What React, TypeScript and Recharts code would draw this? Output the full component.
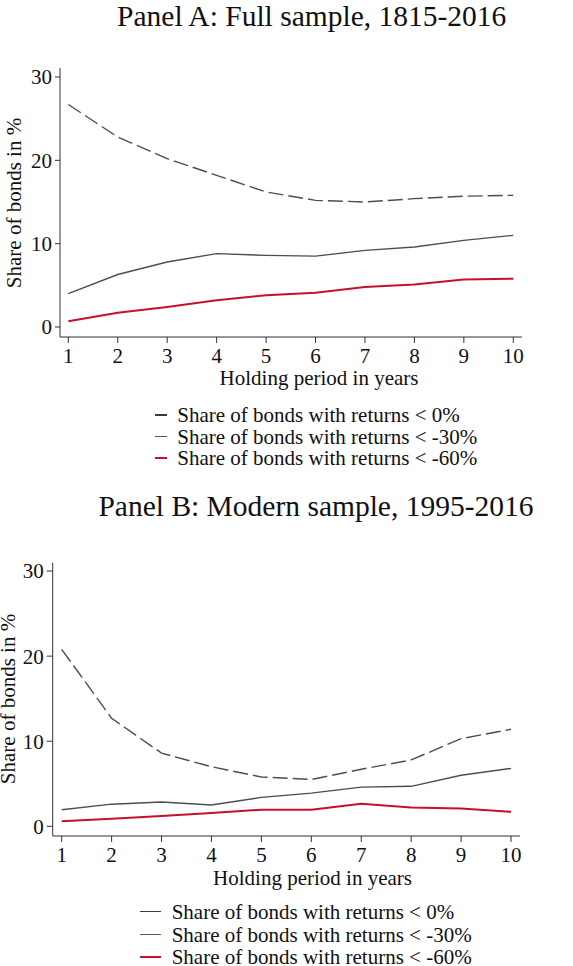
import React from "react";
import { LineChart, Line, XAxis, YAxis } from "recharts";

if (typeof document !== "undefined") {
  document.body.style.margin = "0";
}

const FONT = '"Liberation Serif", "Times New Roman", serif';

// ---- data ----
const holdingYears = [1, 2, 3, 4, 5, 6, 7, 8, 9, 10];
const yTicks = [0, 10, 20, 30];

const fullBelow0 = [26.7, 22.8, 20.2, 18.2, 16.2, 15.2, 15.0, 15.4, 15.7, 15.8];
const fullBelow30 = [4.0, 6.3, 7.8, 8.8, 8.6, 8.5, 9.2, 9.6, 10.4, 11.0];
const fullBelow60 = [0.7, 1.7, 2.4, 3.2, 3.8, 4.1, 4.8, 5.1, 5.7, 5.8];

const modernBelow0 = [20.8, 12.7, 8.6, 7.0, 5.8, 5.5, 6.7, 7.8, 10.3, 11.4];
const modernBelow30 = [1.95, 2.6, 2.85, 2.5, 3.4, 3.9, 4.6, 4.7, 6.0, 6.8];
const modernBelow60 = [0.6, 0.9, 1.2, 1.55, 1.95, 1.95, 2.65, 2.2, 2.1, 1.7];

const seriesNames = [
  "Share of bonds with returns < 0%",
  "Share of bonds with returns < -30%",
  "Share of bonds with returns < -60%",
];
const panelTitles = ["Panel A: Full sample, 1815-2016", "Panel B: Modern sample, 1995-2016"];
const xTitle = "Holding period in years";
const yTitle = "Share of bonds in %";

const COLORS = ["#4d4d4d", "#4d4d4d", "#c8102e"];
const LEGEND_COLORS = ["#3a3a3a", "#5a5a5a", "#c8102e"];

function buildRows(a: number[], b: number[], c: number[]) {
  return holdingYears.map((h, i) => ({ h, s0: a[i], s30: b[i], s60: c[i] }));
}

const fullRows = buildRows(fullBelow0, fullBelow30, fullBelow60);
const modernRows = buildRows(modernBelow0, modernBelow30, modernBelow60);

type Cfg = {
  top: number;
  height: number;
  rows: any[];
  margin: { top: number; right: number; bottom: number; left: number };
  xDomain: [number, number];
  yDomain: [number, number];
  title: string;
  titleCenter: [number, number];
  xLabelCenter: [number, number];
  yLabelCenter: [number, number];
  legendLine: [number, number];
  legendTextX: number;
  legendRowsY: number[];
  yTickSize: number;
};

const Centered = ({ x, y, size, children, rotate }: any) => (
  <div
    style={{
      position: "absolute",
      left: x,
      top: y,
      transform: `translate(-50%, -50%)${rotate ? ` rotate(${rotate}deg)` : ""}`,
      fontFamily: FONT,
      fontSize: size,
      lineHeight: 1,
      whiteSpace: "nowrap",
      color: "#111",
    }}
  >
    {children}
  </div>
);

function Panel({ cfg }: { cfg: Cfg }) {
  return (
    <div style={{ position: "absolute", left: 0, top: cfg.top, width: 573, height: cfg.height }}>
      <div style={{ position: "absolute", left: 0, top: 0 }}>
        <LineChart width={573} height={cfg.height} data={cfg.rows} margin={cfg.margin}>
          <XAxis
            dataKey="h"
            type="number"
            domain={cfg.xDomain}
            ticks={holdingYears}
            allowDataOverflow
            height={30}
            tickSize={6}
            tickMargin={5}
            stroke="#333"
            tick={{ fill: "#111", fontSize: 21, fontFamily: FONT }}
            interval={0}
          />
          <YAxis
            type="number"
            domain={cfg.yDomain}
            ticks={yTicks}
            allowDataOverflow
            width={1}
            tickSize={cfg.yTickSize}
            tickMargin={3}
            stroke="#333"
            tick={{ fill: "#111", fontSize: 21, fontFamily: FONT }}
            interval={0}
          />
          <Line
            dataKey="s0"
            stroke={COLORS[0]}
            strokeWidth={1.4}
            strokeDasharray="15 5"
            dot={false}
            isAnimationActive={false}
            type="linear"
          />
          <Line
            dataKey="s30"
            stroke={COLORS[1]}
            strokeWidth={1.4}
            dot={false}
            isAnimationActive={false}
            type="linear"
          />
          <Line
            dataKey="s60"
            stroke={COLORS[2]}
            strokeWidth={2}
            dot={false}
            isAnimationActive={false}
            type="linear"
          />
        </LineChart>
      </div>
      <Centered x={cfg.titleCenter[0]} y={cfg.titleCenter[1]} size={29.5}>
        {cfg.title}
      </Centered>
      <Centered x={cfg.xLabelCenter[0]} y={cfg.xLabelCenter[1]} size={21}>
        {xTitle}
      </Centered>
      <Centered x={cfg.yLabelCenter[0]} y={cfg.yLabelCenter[1]} size={21} rotate={-90}>
        {yTitle}
      </Centered>
      {seriesNames.map((name, i) => (
        <React.Fragment key={name}>
          <div
            style={{
              position: "absolute",
              left: cfg.legendLine[0],
              top: cfg.legendRowsY[i] - 1,
              width: cfg.legendLine[1] - cfg.legendLine[0],
              height: i === 2 ? 2 : 1.4,
              background: LEGEND_COLORS[i],
            }}
          />
          <div
            style={{
              position: "absolute",
              left: cfg.legendTextX,
              top: cfg.legendRowsY[i],
              transform: "translateY(-50%)",
              fontFamily: FONT,
              fontSize: 21,
              lineHeight: 1,
              whiteSpace: "nowrap",
              color: "#111",
            }}
          >
            {name}
          </div>
        </React.Fragment>
      ))}
    </div>
  );
}

const panelA: Cfg = {
  top: 0,
  height: 480,
  rows: fullRows,
  margin: { top: 68, right: 51, bottom: 113, left: 59 },
  xDomain: [0.832, 10.176],
  yDomain: [-1.2, 31.08],
  title: panelTitles[0],
  titleCenter: [311.7, 16.5],
  xLabelCenter: [319, 378],
  yLabelCenter: [14, 202.5],
  legendLine: [155, 167],
  legendTextX: 177.3,
  legendRowsY: [415.3, 437, 458.3],
  yTickSize: 5,
};

const panelB: Cfg = {
  top: 480,
  height: 486,
  rows: modernRows,
  margin: { top: 82.7, right: 53, bottom: 100, left: 51.7 },
  xDomain: [0.82, 10.18],
  yDomain: [-1.14, 30.98],
  title: panelTitles[1],
  titleCenter: [316, 26.5],
  xLabelCenter: [312.5, 398],
  yLabelCenter: [8, 219],
  legendLine: [140, 161],
  legendTextX: 171.7,
  legendRowsY: [432, 454.5, 477],
  yTickSize: 6,
};

export default function App() {
  return (
    <div style={{ position: "relative", width: 573, height: 966, background: "#fff", overflow: "hidden" }}>
      <Panel cfg={panelA} />
      <Panel cfg={panelB} />
    </div>
  );
}
